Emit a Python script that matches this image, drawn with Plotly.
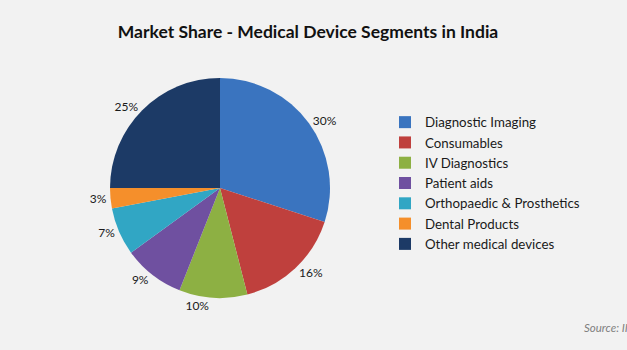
import plotly.graph_objects as go

segments = ["Diagnostic Imaging", "Consumables", "IV Diagnostics", "Patient aids",
            "Orthopaedic & Prosthetics", "Dental Products", "Other medical devices"]
shares = [30, 16, 10, 9, 7, 3, 25]
colors = ["#3a74bf", "#bf403d", "#8db043", "#6f50a0", "#31a6c4", "#f58f2b", "#1c3a66"]

W, H = 627, 350

fig = go.Figure(go.Pie(
    labels=segments,
    values=shares,
    sort=False,
    direction="clockwise",
    rotation=0,
    marker=dict(colors=colors, line=dict(width=0)),
    textinfo="percent",
    texttemplate="%{value}%",
    textposition="outside",
    textfont=dict(family="Lato", size=12, color="#1a1a1a"),
    domain=dict(x=[110 / W, 330 / W], y=[(H - 298) / H, (H - 78) / H]),
    hoverinfo="skip",
))

fig.update_layout(
    width=W, height=H,
    margin=dict(l=0, r=0, t=0, b=0),
    paper_bgcolor="#f2f2f2",
    plot_bgcolor="#f2f2f2",
    font=dict(family="Lato", color="#1a1a1a"),
    title=dict(text="<b>Market Share - Medical Device Segments in India</b>",
               x=308 / W, xanchor="center", y=1 - 32 / H, yanchor="middle",
               font=dict(family="Lato", size=17.5, color="#111111")),
    legend=dict(x=385 / W, xanchor="left", y=1 - 107 / H, yanchor="top",
                font=dict(family="Lato", size=13.3, color="#1a1a1a"),
                bgcolor="rgba(0,0,0,0)", itemwidth=30, tracegroupgap=0),
    showlegend=True,
    annotations=[dict(text="<i>Source: II</i>", x=582 / W, y=1 - 327 / H,
                      xref="paper", yref="paper", xanchor="left", yanchor="middle",
                      showarrow=False, font=dict(family="Lato", size=11.5, color="#7f7f7f"))],
)

fig.write_html("out.html")
